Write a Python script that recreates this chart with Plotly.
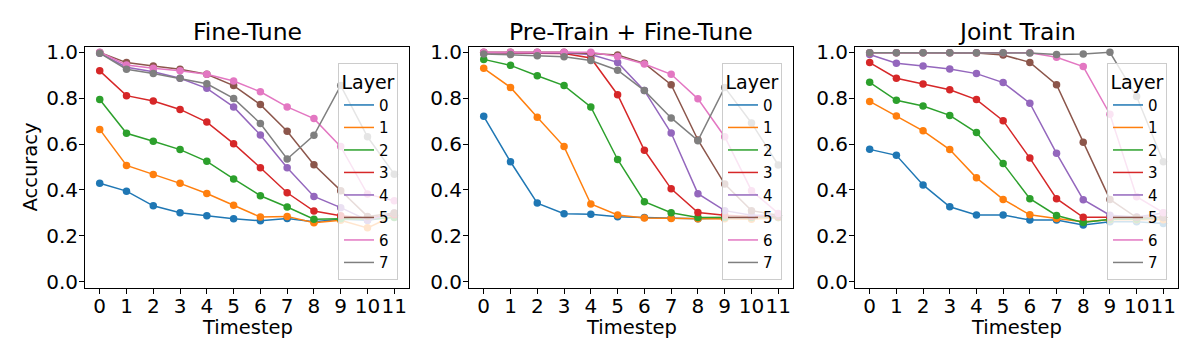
import plotly.graph_objects as go

timesteps = list(range(12))
layers = ["0", "1", "2", "3", "4", "5", "6", "7"]
panel_titles = ["Fine-Tune", "Pre-Train + Fine-Tune", "Joint Train"]

fine_tune = [
    [0.429, 0.395, 0.331, 0.301, 0.288, 0.275, 0.266, 0.276, 0.262, 0.272, 0.268, 0.283],
    [0.664, 0.507, 0.468, 0.429, 0.385, 0.333, 0.282, 0.285, 0.257, 0.268, 0.235, 0.290],
    [0.794, 0.647, 0.612, 0.576, 0.525, 0.448, 0.375, 0.326, 0.273, 0.275, 0.272, 0.280],
    [0.919, 0.811, 0.788, 0.751, 0.696, 0.602, 0.497, 0.388, 0.308, 0.288, 0.278, 0.292],
    [0.996, 0.935, 0.915, 0.887, 0.843, 0.762, 0.640, 0.497, 0.372, 0.323, 0.268, 0.300],
    [0.999, 0.955, 0.940, 0.926, 0.904, 0.855, 0.772, 0.656, 0.510, 0.397, 0.285, 0.300],
    [1.000, 0.945, 0.930, 0.920, 0.904, 0.875, 0.828, 0.762, 0.711, 0.589, 0.382, 0.353],
    [0.996, 0.926, 0.908, 0.887, 0.863, 0.799, 0.690, 0.535, 0.638, 0.855, 0.632, 0.469],
]

pretrain_finetune = [
    [0.721, 0.523, 0.343, 0.297, 0.294, 0.283, 0.280, 0.278, 0.275, 0.278, 0.278, 0.280],
    [0.930, 0.847, 0.717, 0.589, 0.339, 0.291, 0.278, 0.276, 0.275, 0.275, 0.272, 0.280],
    [0.969, 0.943, 0.898, 0.855, 0.762, 0.533, 0.349, 0.301, 0.280, 0.280, 0.280, 0.282],
    [0.998, 0.998, 0.998, 0.995, 0.975, 0.815, 0.573, 0.405, 0.302, 0.290, 0.285, 0.285],
    [0.998, 0.997, 0.997, 0.997, 0.990, 0.956, 0.833, 0.648, 0.384, 0.310, 0.290, 0.290],
    [1.000, 1.000, 1.000, 1.000, 0.995, 0.988, 0.952, 0.859, 0.618, 0.426, 0.310, 0.290],
    [1.000, 1.000, 1.000, 1.000, 1.000, 0.982, 0.949, 0.904, 0.797, 0.632, 0.397, 0.298],
    [0.993, 0.990, 0.985, 0.981, 0.964, 0.922, 0.833, 0.714, 0.615, 0.847, 0.692, 0.509],
]

joint_train = [
    [0.577, 0.551, 0.422, 0.327, 0.291, 0.291, 0.269, 0.269, 0.247, 0.262, 0.262, 0.254],
    [0.786, 0.722, 0.658, 0.576, 0.453, 0.359, 0.292, 0.276, 0.262, 0.270, 0.270, 0.270],
    [0.869, 0.791, 0.766, 0.725, 0.650, 0.515, 0.362, 0.289, 0.258, 0.272, 0.272, 0.280],
    [0.955, 0.887, 0.862, 0.837, 0.794, 0.702, 0.539, 0.362, 0.281, 0.281, 0.281, 0.281],
    [0.990, 0.952, 0.940, 0.927, 0.907, 0.868, 0.778, 0.560, 0.358, 0.290, 0.282, 0.300],
    [0.998, 0.998, 0.998, 0.998, 0.997, 0.988, 0.956, 0.859, 0.608, 0.359, 0.280, 0.280],
    [0.998, 0.998, 0.998, 0.998, 0.998, 0.998, 0.998, 0.978, 0.938, 0.730, 0.371, 0.301],
    [0.998, 0.998, 0.998, 0.998, 0.998, 0.998, 0.997, 0.990, 0.993, 1.000, 0.807, 0.523],
]

panels = [fine_tune, pretrain_finetune, joint_train]
colors = ["#1f77b4", "#ff7f0e", "#2ca02c", "#d62728", "#9467bd", "#8c564b", "#e377c2", "#7f7f7f"]

W, H = 1200, 360
FONT = "DejaVu Sans"
x_px = [(85, 409), (469, 793), (855, 1178)]
y_top, y_bot = 47, 288

fig = go.Figure()
for p, data in enumerate(panels):
    sfx = "" if p == 0 else str(p + 1)
    leg = "legend" + sfx
    for i, vals in enumerate(data):
        fig.add_trace(go.Scatter(
            x=timesteps, y=vals, mode="lines", name=layers[i],
            line=dict(color=colors[i], width=1.5),
            xaxis="x" + sfx, yaxis="y" + sfx, legend=leg, showlegend=True,
            hoverinfo="skip"))
        fig.add_trace(go.Scatter(
            x=timesteps, y=vals, mode="markers", name=layers[i],
            marker=dict(color=colors[i], size=7.5, line=dict(width=0)),
            xaxis="x" + sfx, yaxis="y" + sfx, legend=leg, showlegend=False))

layout = dict(
    width=W, height=H, margin=dict(l=0, r=0, t=0, b=0),
    paper_bgcolor="white", plot_bgcolor="white",
    font=dict(family=FONT, color="black"),
    showlegend=True,
)
annotations = []
for p in range(3):
    sfx = "" if p == 0 else str(p + 1)
    x0, x1 = x_px[p]
    axcommon = dict(showline=True, mirror=True, linecolor="black", linewidth=1,
                    ticks="outside", ticklen=5, tickwidth=1, tickcolor="black",
                    showgrid=False, zeroline=False, automargin=False,
                    tickfont=dict(family=FONT, size=20, color="black"))
    layout["xaxis" + sfx] = dict(domain=[x0 / W, x1 / W], range=[-0.55, 11.55],
                                 tickvals=timesteps, ticktext=[str(t) for t in timesteps],
                                 tickangle=0, ticklabelstandoff=-5,
                                 anchor="y" + sfx, **axcommon)
    layout["yaxis" + sfx] = dict(domain=[1 - y_bot / H, 1 - y_top / H], range=[-0.027, 1.023],
                                 tickvals=[0, 0.2, 0.4, 0.6, 0.8, 1.0],
                                 ticktext=["0.0", "0.2", "0.4", "0.6", "0.8", "1.0"],
                                 ticklabelstandoff=-3,
                                 anchor="x" + sfx, **axcommon)
    layout["legend" + sfx] = dict(
        x=(x1 - 11) / W, xanchor="right", y=1 - 63 / H, yanchor="top",
        bgcolor="rgba(255,255,255,0.8)", bordercolor="#cccccc", borderwidth=1,
        font=dict(family=FONT, size=15, color="black"),
        title=dict(text="Layer", side="top center", font=dict(family=FONT, size=19, color="black")),
        itemwidth=30, tracegroupgap=0,
    )
    cx = (x0 + x1) / 2 / W
    annotations.append(dict(text=panel_titles[p], x=cx, y=1 - 32 / H, xref="paper", yref="paper",
                            xanchor="center", yanchor="middle", showarrow=False,
                            font=dict(family=FONT, size=23.5, color="black")))
    annotations.append(dict(text="Timestep", x=cx, y=1 - 327 / H, xref="paper", yref="paper",
                            xanchor="center", yanchor="middle", showarrow=False,
                            font=dict(family=FONT, size=19.5, color="black")))
annotations.append(dict(text="Accuracy", x=30 / W, y=1 - ((y_top + y_bot) / 2) / H,
                        xref="paper", yref="paper", xanchor="center", yanchor="middle",
                        textangle=-90, showarrow=False,
                        font=dict(family=FONT, size=19.5, color="black")))
layout["annotations"] = annotations
fig.update_layout(**layout)
fig.write_html("out.html", config={"displayModeBar": False},
               post_script="document.body.style.margin='0';document.body.style.padding='0';")
